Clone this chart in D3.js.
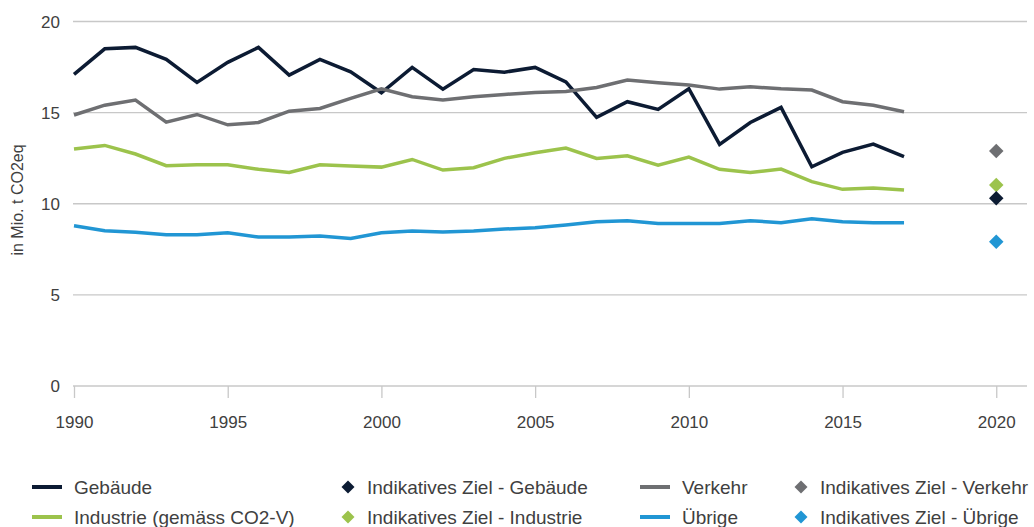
<!DOCTYPE html>
<html>
<head>
<meta charset="utf-8">
<script src="https://cdn.jsdelivr.net/npm/d3@7"></script>
<style>
  body { margin: 0; background: #fff; }
  svg text { font-family: "Liberation Sans", Arial, sans-serif; fill: #404040; }
</style>
</head>
<body>
<div id="chart"></div>
<script>
// data
const years = d3.range(1990, 2018);
const gebaeude = [17.1, 18.5, 18.58, 17.92, 16.66, 17.76, 18.58, 17.06, 17.92, 17.24,
  16.09, 17.48, 16.29, 17.37, 17.22, 17.48, 16.69, 14.74, 15.6, 15.18,
  16.31, 13.26, 14.46, 15.29, 12.03, 12.82, 13.27, 12.58];
const verkehr = [14.87, 15.41, 15.69, 14.48, 14.9, 14.33, 14.46, 15.08, 15.23, 15.78,
  16.31, 15.87, 15.69, 15.87, 16.0, 16.11, 16.16, 16.38, 16.79, 16.64,
  16.51, 16.29, 16.42, 16.31, 16.24, 15.6, 15.4, 15.05];
const industrie = [13.0, 13.2, 12.73, 12.09, 12.14, 12.14, 11.89, 11.72, 12.14, 12.07,
  12.01, 12.43, 11.85, 11.98, 12.49, 12.8, 13.06, 12.49, 12.63, 12.12,
  12.56, 11.89, 11.72, 11.9, 11.21, 10.79, 10.86, 10.75];
const uebrige = [8.79, 8.52, 8.43, 8.3, 8.3, 8.41, 8.17, 8.17, 8.23, 8.1,
  8.41, 8.5, 8.45, 8.5, 8.61, 8.68, 8.83, 9.01, 9.07, 8.92,
  8.92, 8.92, 9.07, 8.96, 9.18, 9.01, 8.96, 8.96];

const targetYear = 2020;
const targets = { "Gebäude": 10.3, "Industrie": 11.03, "Verkehr": 12.89, "Übrige": 7.92 };

const xTicks = [1990, 1995, 2000, 2005, 2010, 2015, 2020];
const yTicks = [0, 5, 10, 15, 20];

const series = [
  { key: "Gebäude", values: gebaeude, color: "#0c1b33" },
  { key: "Verkehr", values: verkehr, color: "#6e6f72" },
  { key: "Industrie", values: industrie, color: "#9cc34c" },
  { key: "Übrige", values: uebrige, color: "#2196d4" }
];

// legend order, as in the reference (two rows of four)
const legendItems = [
  { label: "Gebäude", type: "line", color: "#0c1b33" },
  { label: "Indikatives Ziel - Gebäude", type: "diamond", color: "#0c1b33" },
  { label: "Verkehr", type: "line", color: "#6e6f72" },
  { label: "Indikatives Ziel - Verkehr", type: "diamond", color: "#6e6f72" },
  { label: "Industrie (gemäss CO2-V)", type: "line", color: "#9cc34c" },
  { label: "Indikatives Ziel - Industrie", type: "diamond", color: "#9cc34c" },
  { label: "Übrige", type: "line", color: "#2196d4" },
  { label: "Indikatives Ziel - Übrige", type: "diamond", color: "#2196d4" }
];

const width = 1034, height = 527;
const svg = d3.select("#chart").append("svg")
  .attr("width", width)
  .attr("height", height);

const x = d3.scaleLinear().domain([1990, 2021]).range([74, 1027]);
const y = d3.scaleLinear().domain([0, 20]).range([386, 21.5]);

// gridlines
svg.append("g").selectAll("line")
  .data(yTicks)
  .join("line")
  .attr("x1", 73).attr("x2", 1027)
  .attr("y1", d => y(d)).attr("y2", d => y(d))
  .attr("stroke", "#c8c8c8")
  .attr("stroke-width", 1.3);

// y labels
svg.append("g").selectAll("text")
  .data(yTicks)
  .join("text")
  .attr("x", 60)
  .attr("y", d => y(d))
  .attr("dy", "0.36em")
  .attr("text-anchor", "end")
  .attr("font-size", 17)
  .text(d => d);

// x axis
const xAxis = d3.axisBottom(x)
  .tickValues(xTicks)
  .tickFormat(d3.format("d"))
  .tickSize(12)
  .tickPadding(18);

const gx = svg.append("g")
  .attr("transform", `translate(0,${y(0)})`)
  .call(xAxis);
gx.select(".domain").remove();
gx.selectAll(".tick line").attr("stroke", "#c8c8c8").attr("stroke-width", 1.3);
gx.selectAll(".tick text")
  .attr("font-size", 17)
  .attr("fill", "#404040")
  .style("font-family", "'Liberation Sans', Arial, sans-serif");

// y axis title
svg.append("text")
  .attr("transform", "translate(23,200) rotate(-90)")
  .attr("text-anchor", "middle")
  .attr("font-size", 16)
  .text("in Mio. t CO2eq");

// lines
const line = d3.line()
  .x((d, i) => x(years[i]))
  .y(d => y(d));

svg.append("g").selectAll("path")
  .data(series)
  .join("path")
  .attr("d", d => line(d.values))
  .attr("fill", "none")
  .attr("stroke", d => d.color)
  .attr("stroke-width", 3.5)
  .attr("stroke-linejoin", "miter");

// target diamonds
const diamond = d3.symbol().type(d3.symbolSquare).size(105);
const targetOrder = ["Verkehr", "Industrie", "Gebäude", "Übrige"];
svg.append("g").selectAll("path")
  .data(series.slice().sort((a, b) => targetOrder.indexOf(a.key) - targetOrder.indexOf(b.key)))
  .join("path")
  .attr("d", diamond)
  .attr("transform", d => `translate(${x(targetYear)},${y(targets[d.key])}) rotate(45)`)
  .attr("fill", d => d.color);

// legend
const colX = [32, 340, 640, 793];
const rowY = [487, 517];
const legend = svg.append("g").selectAll("g")
  .data(legendItems)
  .join("g")
  .attr("transform", (d, i) => {
    const row = i < 4 ? 0 : 1;
    const col = i % 4;
    return `translate(${colX[col]},${rowY[row]})`;
  });

legend.filter(d => d.type === "line")
  .append("line")
  .attr("x1", 0).attr("x2", 30)
  .attr("stroke", d => d.color)
  .attr("stroke-width", 4);

legend.filter(d => d.type === "diamond")
  .append("path")
  .attr("d", d3.symbol().type(d3.symbolSquare).size(85))
  .attr("transform", "translate(8,0) rotate(45)")
  .attr("fill", d => d.color);

legend.append("text")
  .attr("x", d => d.type === "line" ? 42 : 27)
  .attr("dy", "0.35em")
  .attr("font-size", 19)
  .text(d => d.label);
</script>
</body>
</html>
